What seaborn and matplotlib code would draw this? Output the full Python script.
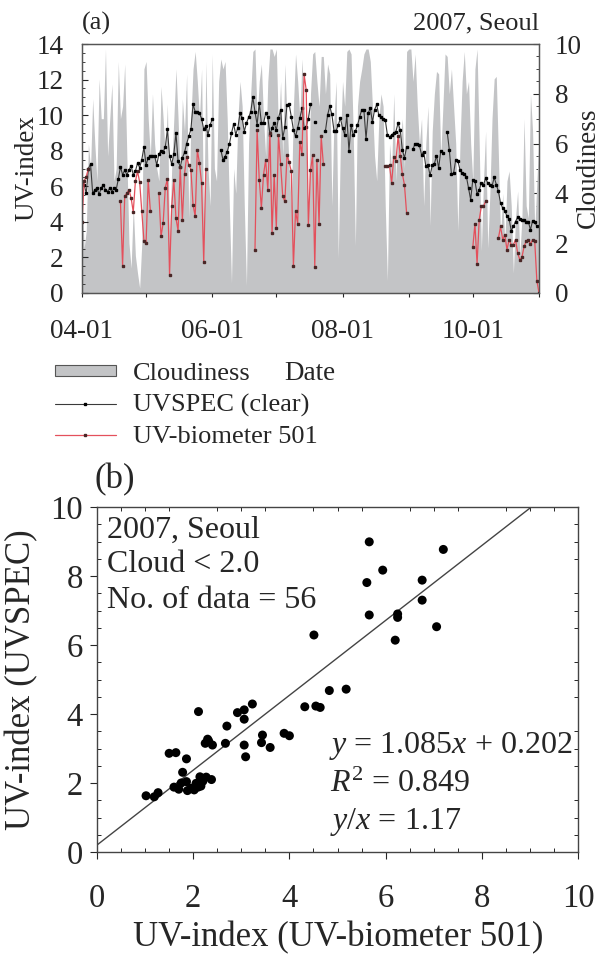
import numpy as np
import pandas as pd
import matplotlib
matplotlib.use("Agg")
import matplotlib.pyplot as plt
import matplotlib.dates as mdates
from matplotlib.patches import Patch
from matplotlib.lines import Line2D
from matplotlib.ticker import MultipleLocator
import seaborn as sns

N = None

# ---- panel (a): daily series from 2007-04-01 to 2007-11-01 ----
start_date = "2007-04-01"

cloudiness = [
    4.0, 1.8, 2.5, 6.0, 5.0, 7.8, 6.0, 4.5, 8.6, 7.0,
    7.0, 9.8, 5.5, 7.0, 8.4, 4.5, 5.0, 9.3, 7.0, 7.5,
    9.2, 5.5, 2.0, 1.0, 3.5, 1.5, 0.8, 0.2, 2.0, 9.0,
    9.3, 7.0, 5.5, 8.0, 6.0, 5.0, 4.5, 8.3, 7.0, 5.5,
    7.6, 2.0, 5.0, 7.0, 9.0, 7.0, 4.5, 7.8, 6.5, 8.8,
    3.0, 7.0, 9.0, 9.7, 8.5, 7.0, 9.0, 2.5, 9.3, 5.0,
    3.5, 9.6, 5.0, 4.5, 8.5, 9.4, 9.0, 9.3, 7.0, 3.5,
    0.4, 5.0, 4.0, 7.0, 8.5, 7.5, 3.5, 0.3, 6.0, 8.0,
    9.7, 9.8, 7.0, 8.5, 9.2, 7.0, 5.5, 8.5, 9.8, 9.8,
    9.5, 9.8, 6.5, 8.5, 5.5, 9.2, 7.0, 5.0, 3.5, 7.5,
    9.6, 8.5, 7.0, 9.4, 7.5, 6.0, 3.0, 8.0, 9.6, 9.7,
    8.5, 7.5, 9.5, 9.5, 8.0, 9.2, 8.8, 3.5, 7.0, 8.5,
    1.4, 6.0, 8.5, 7.5, 9.7, 9.8, 9.6, 6.5, 1.9, 7.5,
    8.5, 9.0, 9.6, 9.8, 9.8, 9.3, 7.5, 5.5, 4.5, 7.0,
    8.0, 7.5, 3.5, 0.5, 6.0, 5.0, 8.0, 4.5, 7.0, 6.0,
    7.0, 5.0, 9.7, 9.8, 9.8, 8.5, 9.6, 7.5, 6.0, 7.0,
    3.5, 6.0, 7.5, 2.7, 6.5, 8.0, 8.9, 8.8, 5.5, 7.5,
    9.6, 9.5, 8.0, 9.0, 7.5, 6.0, 2.5, 6.0, 8.5, 9.7,
    8.0, 8.5, 6.0, 4.5, 9.0, 9.8, 6.0, 1.7, 4.5, 6.5,
    1.8, 4.0, 7.0, 8.6, 8.7, 5.5, 2.2, 4.0, 2.0, 4.5,
    4.9, 3.5, 0.8, 3.0, 4.1, 1.5, 3.0, 7.0, 3.5, 3.0,
    8.0, 6.5, 2.5, 4.5, 6.2,
]

uvspec_clear = [
    6.2, 6.1, 5.6, 7.0, 7.25, 5.6, 5.8, 5.9, 5.55, 5.9,
    6.1, 5.8, 5.7, 5.9, 5.7, 5.9, 5.8, 6.4, 7.1, 6.65,
    6.9, 6.65, 6.9, 7.15, 6.65, 6.85, 7.3, 7.05, 7.5, 8.2,
    7.2, 7.6, 7.7, 7.7, 7.7, 7.2, 7.8, 8.0, 7.95, 8.2,
    9.2, 7.7, 7.25, 7.8, 9.0, 7.4, 7.1, 7.6, 7.9, 8.4,
    8.8, 9.2, 10.6, 10.2, 10.15, 10.1, 9.8, 9.2, 9.4, 8.9,
    9.45, 9.78, N, N, N, 8.05, 7.5, 7.67, 7.95, 8.37,
    8.98, 9.5, 8.9, 9.3, 10.1, 9.83, 9.08, 9.55, 9.87, 10.17,
    11.0, 10.2, 9.46, 10.67, 9.55, 9.55, 10.1, 9.9, 8.9, 9.27,
    9.55, 9.17, 9.83, 10.3, 8.7, 9.36, 10.58, 10.6, 9.92, 9.17,
    8.8, 9.3, 9.83, 10.39, 9.27, 9.36, 9.8, 10.6, N, 9.6,
    N, N, N, N, 9.12, 10.0, 10.5, 10.05, 9.12, 9.12,
    9.45, 9.83, 9.27, 8.9, 9.98, 7.99, 9.45, 8.86, 9.1, 9.42,
    9.9, 10.3, 10.3, 8.67, 10.1, 10.4, 9.6, 10.3, 10.6, 9.98,
    9.87, 9.8, 9.74, 8.9, 8.77, 8.9, 8.98, 9.08, 9.55, 9.17,
    8.05, 7.6, 8.2, N, N, 8.1, 8.4, 8.37, 8.3, 7.77,
    7.95, 7.12, 7.2, 6.61, 7.17, 7.25, 7.73, 7.02, 7.99, 7.86,
    N, 9.08, 8.05, 6.68, 6.74, 7.49, 7.43, 6.93, 6.74, 6.68,
    6.55, 5.9, 5.24, 6.37, 6.31, 5.56, 5.8, 6.18, 6.08, 6.46,
    6.18, 6.08, 5.99, 6.5, 6.1, 5.71, 5.05, 4.77, 4.62, 4.31,
    4.17, 3.5, 3.74, 4.02, 4.25, 4.17, 4.12, 4.12, 4.02, 4.02,
    3.55, 4.07, 3.99, 3.74, N,
]

uv_biometer = [
    4.0, 6.3, 6.55, 7.0, N, N, N, N, N, N,
    N, N, N, N, N, N, N, N, 5.15, 1.53,
    5.43, 5.62, 5.8, 5.34, 4.56, 6.27, 6.84, 6.24, 4.6, 2.94,
    2.81, 6.37, 4.63, N, N, N, 5.62, 3.18, 3.93, 5.93,
    6.41, 1.0, 4.87, 6.37, 4.2, 3.5, 7.1, 4.12, 6.69, 7.66,
    7.2, 6.93, 4.96, 4.31, 8.05, 7.3, 6.18, 1.74, 7.0, N,
    N, N, N, N, N, N, N, N, N, N,
    N, N, N, N, N, N, N, N, N, N,
    N, 2.43, 9.17, 6.37, 4.78, 6.65, 7.49, 5.8, 8.98, 3.37,
    6.65, 3.65, 8.9, 7.25, 5.43, 5.15, 7.77, 7.36, 6.84, 1.5,
    4.6, 3.9, 8.5, 7.8, 12.3, 11.4, 3.8, 6.9, 7.75, 1.48,
    7.49, 3.86, 8.8, 7.27, N, N, N, N, N, N,
    N, N, N, N, N, N, N, N, N, N,
    N, N, N, N, N, N, N, N, N, N,
    N, N, 7.12, 7.15, 7.17, 6.18, 7.67, 7.43, 8.8, 7.73,
    6.7, 6.08, 4.49, N, N, N, N, N, N, N,
    N, N, N, N, N, N, N, N, N, N,
    N, N, N, N, N, N, N, N, N, N,
    N, N, N, 2.57, 3.88, 1.63, 4.12, 4.87, 4.87, 5.15,
    N, N, N, N, N, 3.09, 3.74, 3.0, 3.28, 2.43,
    3.0, 2.71, 2.71, 3.0, 2.25, 1.87, 2.0, 2.62, 2.9, 3.0,
    2.75, 3.0, 2.9, 0.69, 0.0,
]

# ---- panel (b): clear-sky comparison (cloud < 2.0) ----
scatter_biometer = [
    5.66, 7.2, 5.94, 5.61, 6.76, 6.76, 5.66, 6.25, 6.25, 7.06, 6.2, 4.51,
    2.11, 2.92, 3.06, 3.23, 3.06, 2.7, 3.44, 3.42, 3.6, 3.89,
    4.0, 3.06, 3.09, 2.67, 2.3, 2.25, 2.4, 1.5, 1.64, 1.86,
    1.78, 1.86, 2.14, 2.38, 2.06, 2.16, 1.6, 1.7, 1.88, 2.02,
    2.1, 1.02, 1.19, 1.27, 4.32, 4.55, 4.64, 4.83, 5.18,
    1.95, 2.2, 2.27, 2.32, 1.75,
]
scatter_uvspec = [
    8.99, 8.77, 8.17, 7.81, 7.88, 7.3, 6.87, 6.9, 6.8, 6.53, 6.14, 6.29,
    4.07, 4.04, 4.12, 4.29, 3.85, 3.65, 3.39, 3.17, 3.03, 3.44,
    3.37, 3.1, 2.76, 3.15, 3.27, 3.15, 3.1, 2.86, 2.88, 2.7,
    2.31, 2.04, 2.18, 2.1, 1.99, 1.91, 1.88, 1.82, 1.78, 1.8,
    1.88, 1.63, 1.6, 1.72, 4.21, 4.23, 4.19, 4.68, 4.72,
    1.85, 2.05, 2.17, 3.22, 2.0,
]
fit_slope = 1.085
fit_intercept = 0.202

sns.set_style("ticks")
plt.rcParams["font.family"] = ["Liberation Serif", "DejaVu Serif"]
plt.rcParams["mathtext.fontset"] = "custom"
plt.rcParams["mathtext.rm"] = "Liberation Serif"
plt.rcParams["mathtext.it"] = "Liberation Serif:italic"

W, H = 609, 959
fig = plt.figure(figsize=(W / 100, H / 100), dpi=100)


def fx(px):
    return px / W


def fy(py):
    return 1 - py / H


cloud_grey = "#c3c4c6"
red = "#e4505c"

# ---------------- panel (a) ----------------
ax = fig.add_axes([fx(82), fy(293), (539 - 82) / W, (293 - 44) / H])
axc = ax.twinx()
dates = pd.date_range(start_date, periods=len(cloudiness), freq="D")

axc.fill_between(dates, 0, cloudiness, color=cloud_grey, lw=0)
axc.set_ylim(0, 10)
ax.set_zorder(axc.get_zorder() + 1)
ax.patch.set_visible(False)

uvs = np.array(uvspec_clear, dtype=float)
bio = np.array(uv_biometer, dtype=float)
ax.plot(dates, uvs, color="#3a3a3a", lw=0.8, marker="s", ms=1.5,
        mfc="black", mec="black")
ax.plot(dates, bio, color=red, lw=0.9, marker="s", ms=1.5,
        mfc="#4a2626", mec="#4a2626")

ax.set_ylim(0, 14)
ax.set_xlim(pd.Timestamp("2007-04-01"), pd.Timestamp("2007-11-01"))
ax.xaxis.set_major_locator(mdates.MonthLocator(bymonth=[4, 6, 8, 10]))
ax.xaxis.set_minor_locator(mdates.MonthLocator())
ax.xaxis.set_major_formatter(mdates.DateFormatter("%m-%d"))
ax.yaxis.set_major_locator(MultipleLocator(2))
ax.yaxis.set_minor_locator(MultipleLocator(0.5))
axc.yaxis.set_major_locator(MultipleLocator(2))
axc.yaxis.set_minor_locator(MultipleLocator(0.5))

ax.tick_params(axis="y", which="major", direction="in", length=4, width=0.8,
               labelsize=19.5, pad=13.5, right=False)
ax.tick_params(axis="y", which="minor", direction="in", length=2, width=0.6, right=False)
ax.tick_params(axis="x", which="both", direction="out", length=3, width=0.8,
               labelsize=19.5, pad=16, top=False)
axc.tick_params(axis="y", which="major", direction="in", length=4, width=0.8,
                labelsize=19.5, pad=11.5)
axc.tick_params(axis="y", which="minor", direction="in", length=2, width=0.6)
for a in (ax, axc):
    for s in a.spines.values():
        s.set_color("#555555")
        s.set_linewidth(0.9)

fig.text(fx(82), fy(23), "(a)", ha="left", va="center", size=19)
fig.text(fx(539), fy(23), "2007, Seoul", ha="right", va="center", size=19)
fig.text(fx(27), fy(168), "UV-index", rotation=90, ha="center", va="center", size=19.5)
fig.text(fx(588), fy(168), "Cloudiness", rotation=90, ha="center", va="center", size=19.5)
fig.text(fx(310), fy(374), "Date", ha="center", va="center", size=19.5)

handles = [
    Patch(facecolor=cloud_grey, edgecolor="#555555", lw=0.8),
    Line2D([], [], color="#3a3a3a", lw=0.8, marker="s", ms=1.5, mfc="black", mec="black"),
    Line2D([], [], color=red, lw=0.9, marker="s", ms=1.5, mfc="#4a2626", mec="#4a2626"),
]
fig.legend(handles, ["Cloudiness", "UVSPEC (clear)", "UV-biometer 501"],
           loc="upper left", bbox_to_anchor=(fx(55), fy(363)), frameon=False,
           fontsize=19, handlelength=2.3, handleheight=0.3, handletextpad=0.65,
           labelspacing=0.33, borderpad=0, borderaxespad=0)

# ---------------- panel (b) ----------------
ax2 = fig.add_axes([fx(97), fy(852), (578 - 97) / W, (852 - 507) / H])
sns.scatterplot(x=scatter_biometer, y=scatter_uvspec, ax=ax2, color="black",
                s=42, edgecolor="none", zorder=3)
fit_x = np.array([0.0, 10.0])
ax2.plot(fit_x, fit_slope * fit_x + fit_intercept, color="#444444", lw=1.0)
ax2.set_xlim(0, 10)
ax2.set_ylim(0, 10)
ax2.xaxis.set_major_locator(MultipleLocator(2))
ax2.yaxis.set_major_locator(MultipleLocator(2))
ax2.xaxis.set_minor_locator(MultipleLocator(0.5))
ax2.yaxis.set_minor_locator(MultipleLocator(0.5))
ax2.tick_params(which="major", direction="out", length=5, width=0.8,
                labelsize=23.5, top=False, right=False)
ax2.tick_params(axis="x", which="major", pad=18)
ax2.tick_params(axis="y", which="major", pad=5)
ax2.tick_params(which="minor", direction="in", length=3, width=0.7,
                top=True, right=True, bottom=True, left=True)
for s in ax2.spines.values():
    s.set_color("#444444")
    s.set_linewidth(1.0)

fig.text(fx(95), fy(480), "(b)", ha="left", va="center", size=25)
fig.text(fx(107), fy(530), "2007, Seoul", ha="left", va="center", size=23)
fig.text(fx(107), fy(565), "Cloud < 2.0", ha="left", va="center", size=23)
fig.text(fx(107), fy(600), "No. of data = 56", ha="left", va="center", size=23)
fig.text(fx(572), fy(746), r"$y$ = 1.085$x$ + 0.202", ha="right", va="center", size=23)
fig.text(fx(330), fy(784), r"$R^2$ = 0.849", ha="left", va="center", size=23)
fig.text(fx(330), fy(822), r"$y/x$ = 1.17", ha="left", va="center", size=23)
fig.text(fx(22), fy(680), "UV-index (UVSPEC)", rotation=90, ha="center", va="center", size=25)
fig.text(fx(338), fy(938), "UV-index (UV-biometer 501)", ha="center", va="center", size=25)

fig.savefig("out.png", dpi=100)
